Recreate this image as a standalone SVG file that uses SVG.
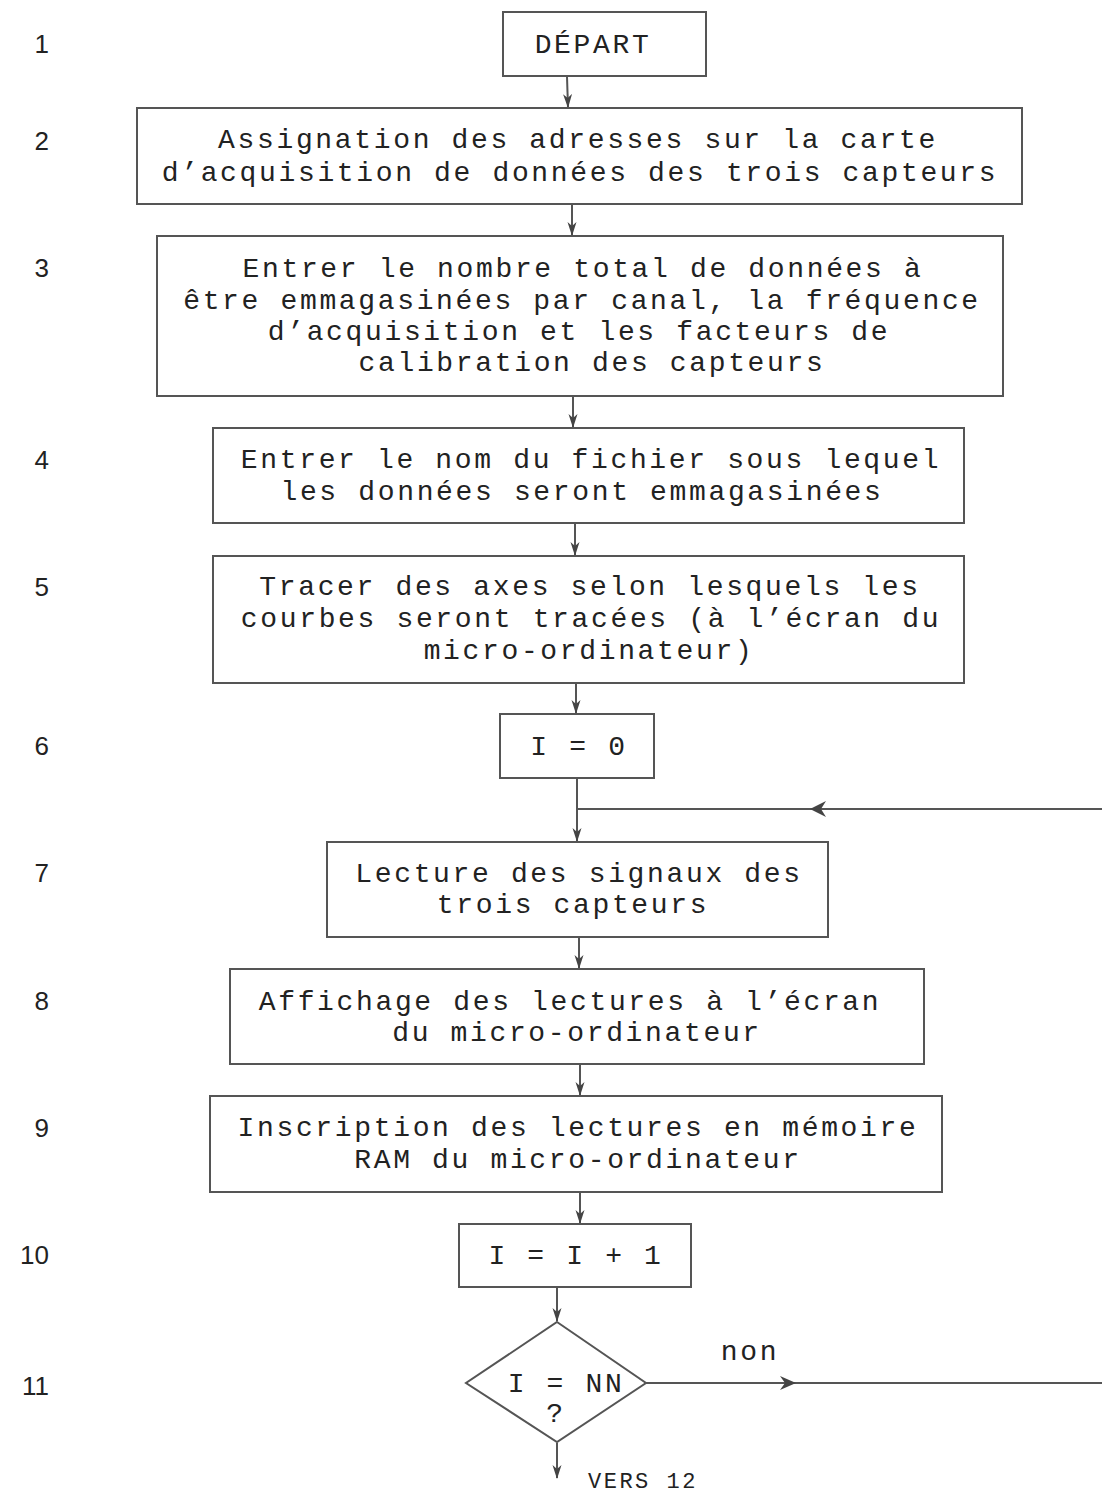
<svg xmlns="http://www.w3.org/2000/svg" width="1102" height="1496" viewBox="0 0 1102 1496">
  <style>
    .box { fill: #ffffff; stroke: #555; stroke-width: 2; }
    .txt { font-family: "Liberation Mono", "Courier New", monospace; font-size: 28px; letter-spacing: 2.65px; fill: #222; text-anchor: middle; }
    .num { font-family: "Liberation Sans", Arial, sans-serif; font-size: 26px; fill: #222; text-anchor: end; }
    .small { font-family: "Liberation Mono", "Courier New", monospace; font-size: 22px; letter-spacing: 2.5px; fill: #222; }
    .link { fill: none; stroke: #555; stroke-width: 2; }
    .head { fill: #444; stroke: none; }
  </style>
  <defs>
    <marker id="arrow" viewBox="0 0 14 10" refX="13" refY="5" markerWidth="14" markerHeight="10" markerUnits="userSpaceOnUse" orient="auto">
      <path d="M0,0.5 L14,5 L0,9.5 L4,5 z" fill="#444"/>
    </marker>
  </defs>
  <rect width="1102" height="1496" fill="#ffffff"/>

  <!-- step numbers -->
  <g id="step-numbers">
    <text class="num" x="49" y="53">1</text>
    <text class="num" x="49" y="150">2</text>
    <text class="num" x="49" y="277">3</text>
    <text class="num" x="49" y="469">4</text>
    <text class="num" x="49" y="596">5</text>
    <text class="num" x="49" y="755">6</text>
    <text class="num" x="49" y="882">7</text>
    <text class="num" x="49" y="1010">8</text>
    <text class="num" x="49" y="1137">9</text>
    <text class="num" x="49" y="1264">10</text>
    <text class="num" x="49" y="1395">11</text>
  </g>

  <!-- connectors -->
  <g id="connectors">
    <line class="link" x1="567" y1="77" x2="568" y2="107" marker-end="url(#arrow)"/>
    <line class="link" x1="572" y1="205" x2="572" y2="235" marker-end="url(#arrow)"/>
    <line class="link" x1="573" y1="397" x2="573" y2="427" marker-end="url(#arrow)"/>
    <line class="link" x1="575" y1="524" x2="575" y2="555" marker-end="url(#arrow)"/>
    <line class="link" x1="576" y1="684" x2="576" y2="713" marker-end="url(#arrow)"/>
    <line class="link" x1="577" y1="778" x2="577" y2="841" marker-end="url(#arrow)"/>
    <!-- loop return line -->
    <line class="link" x1="1102" y1="809" x2="577" y2="809"/>
    <path class="head" d="M810,809 L826,801 L821,809 L826,817 z"/>
    <line class="link" x1="579" y1="937" x2="579" y2="968" marker-end="url(#arrow)"/>
    <line class="link" x1="580" y1="1064" x2="580" y2="1095" marker-end="url(#arrow)"/>
    <line class="link" x1="580" y1="1192" x2="580" y2="1223" marker-end="url(#arrow)"/>
    <line class="link" x1="557" y1="1288" x2="557" y2="1321" marker-end="url(#arrow)"/>
    <line class="link" x1="557" y1="1443" x2="557" y2="1478" marker-end="url(#arrow)"/>
    <!-- "non" branch -->
    <line class="link" x1="646" y1="1383" x2="1102" y2="1383"/>
    <path class="head" d="M796,1383 L780,1376 L785,1383 L780,1390 z"/>
    <text class="txt" x="750" y="1360">non</text>
    <text class="small" x="588" y="1488">VERS 12</text>
  </g>

  <g id="n1">
    <rect class="box" x="503" y="12" width="203" height="64"/>
    <text class="txt" x="593" y="53">DÉPART</text>
  </g>
  <g id="n2">
    <rect class="box" x="137" y="108" width="885" height="96"/>
    <text class="txt" x="578" y="148">Assignation des adresses sur la carte</text>
    <text class="txt" x="580" y="181">d’acquisition de données des trois capteurs</text>
  </g>
  <g id="n3">
    <rect class="box" x="157" y="236" width="846" height="160"/>
    <text class="txt" x="583" y="277">Entrer le nombre total de données à</text>
    <text class="txt" x="582" y="309">être emmagasinées par canal, la fréquence</text>
    <text class="txt" x="579" y="340">d’acquisition et les facteurs de</text>
    <text class="txt" x="592" y="371">calibration des capteurs</text>
  </g>
  <g id="n4">
    <rect class="box" x="213" y="428" width="751" height="95"/>
    <text class="txt" x="591" y="468">Entrer le nom du fichier sous lequel</text>
    <text class="txt" x="582" y="500">les données seront emmagasinées</text>
  </g>
  <g id="n5">
    <rect class="box" x="213" y="556" width="751" height="127"/>
    <text class="txt" x="590" y="595">Tracer des axes selon lesquels les</text>
    <text class="txt" x="591" y="627">courbes seront tracées (à l’écran du</text>
    <text class="txt" x="589" y="659">micro-ordinateur)</text>
  </g>
  <g id="n6">
    <rect class="box" x="500" y="714" width="154" height="64"/>
    <text class="txt" x="579" y="755">I = 0</text>
  </g>
  <g id="n7">
    <rect class="box" x="327" y="842" width="501" height="95"/>
    <text class="txt" x="579" y="882">Lecture des signaux des</text>
    <text class="txt" x="573" y="913">trois capteurs</text>
  </g>
  <g id="n8">
    <rect class="box" x="230" y="969" width="694" height="95"/>
    <text class="txt" x="570" y="1010">Affichage des lectures à l’écran</text>
    <text class="txt" x="577" y="1041">du micro-ordinateur</text>
  </g>
  <g id="n9">
    <rect class="box" x="210" y="1096" width="732" height="96"/>
    <text class="txt" x="578" y="1136">Inscription des lectures en mémoire</text>
    <text class="txt" x="578" y="1168">RAM du micro-ordinateur</text>
  </g>
  <g id="n10">
    <rect class="box" x="459" y="1224" width="232" height="63"/>
    <text class="txt" x="576" y="1264">I = I + 1</text>
  </g>
  <g id="n11">
    <polygon class="box" points="557,1322 646,1383 557,1442 466,1383"/>
    <text class="txt" x="566" y="1392">I = NN</text>
    <text class="txt" x="556" y="1422">?</text>
  </g>
</svg>
